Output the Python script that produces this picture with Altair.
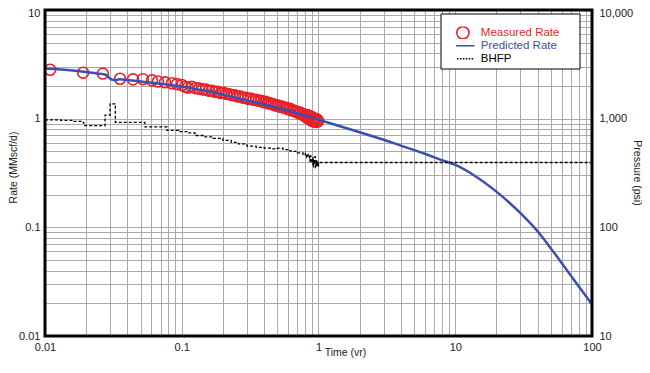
import altair as alt
import pandas as pd

# ---------------- data ----------------
series = ["Measured Rate", "Predicted Rate", "BHFP"]
colors = ["#ea1f27", "#3a50b0", "#000000"]

pred_t = [0.01, 0.013, 0.016, 0.02, 0.024, 0.0275, 0.029, 0.031, 0.033, 0.035, 0.04, 0.05,
          0.06, 0.08, 0.1, 0.13, 0.17, 0.22, 0.3, 0.4, 0.5, 0.7, 1.0, 1.4, 2.0, 3.0, 4.0,
          6.0, 8.0, 10, 13.5, 20, 30, 40, 52, 73, 100]
pred_rate = [2.90, 2.84, 2.77, 2.69, 2.61, 2.55, 2.42, 2.28, 2.27, 2.30, 2.27, 2.20,
             2.14, 2.05, 1.98, 1.86, 1.74, 1.62, 1.47, 1.35, 1.26, 1.12, 0.98, 0.86, 0.75,
             0.64, 0.565, 0.475, 0.415, 0.375, 0.305, 0.213, 0.135, 0.092, 0.060, 0.0335, 0.0195]

meas_t = [0.0109, 0.019, 0.0265, 0.0354, 0.044, 0.052, 0.0606, 0.067, 0.0754, 0.0849, 0.0923,
          0.1004, 0.1055, 0.1109, 0.118, 0.126, 0.134, 0.142, 0.15, 0.158, 0.166, 0.175, 0.184,
          0.193, 0.202, 0.212, 0.222, 0.233, 0.244, 0.256, 0.268, 0.28, 0.293, 0.306, 0.32,
          0.335, 0.35, 0.365, 0.38, 0.395, 0.41, 0.425, 0.44, 0.455, 0.47, 0.485, 0.5, 0.52,
          0.54, 0.56, 0.58, 0.6, 0.62, 0.64, 0.66, 0.68, 0.7, 0.72, 0.74, 0.76, 0.78, 0.8,
          0.815, 0.83, 0.845, 0.86, 0.875, 0.89, 0.905, 0.92, 0.935, 0.95, 0.965, 0.98, 0.995]
meas_rate = [2.82, 2.65, 2.60, 2.33, 2.30, 2.31, 2.25, 2.20, 2.16, 2.12, 2.08,
             2.04, 1.97, 1.93, 1.97, 1.91, 1.89, 1.86, 1.85, 1.81, 1.81, 1.77, 1.77,
             1.72, 1.73, 1.69, 1.68, 1.65, 1.64, 1.61, 1.60, 1.56, 1.56, 1.52, 1.53,
             1.49, 1.49, 1.46, 1.46, 1.42, 1.43, 1.39, 1.39, 1.36, 1.36, 1.32, 1.33, 1.29,
             1.29, 1.26, 1.26, 1.22, 1.23, 1.19, 1.19, 1.16, 1.16, 1.12, 1.13, 1.09, 1.10, 1.06,
             1.03, 1.08, 1.00, 1.05, 0.97, 1.04, 0.95, 1.01, 0.94, 1.00, 0.93, 0.98, 0.95]

bhfp_t = [0.01, 0.013, 0.016, 0.0185, 0.0192, 0.0275, 0.0299, 0.0327, 0.0538, 0.078, 0.095,
          0.109, 0.125, 0.145, 0.17, 0.2, 0.23, 0.26, 0.3, 0.35, 0.4, 0.45, 0.5, 0.55, 0.6,
          0.65, 0.7, 0.77, 0.8, 0.82, 0.84, 0.86, 0.87, 0.88, 0.9, 0.91, 0.92, 0.93, 0.94,
          0.95, 0.96, 0.97, 0.98, 0.99, 1.0, 100]
bhfp_psi = [975, 965, 945, 925, 862, 1080, 1370, 925, 840, 780, 760,
            740, 700, 680, 660, 630, 605, 585, 560, 545, 535, 528, 535, 520, 505,
            500, 485, 462, 480, 440, 470, 410, 455, 395, 440, 360, 420, 380, 445,
            355, 410, 370, 400, 365, 395, 395]

x_ticks = [0.01, 0.02, 0.03, 0.04, 0.05, 0.06, 0.07, 0.08, 0.09,
           0.1, 0.2, 0.3, 0.4, 0.5, 0.6, 0.7, 0.8, 0.9,
           1, 2, 3, 4, 5, 6, 7, 8, 9,
           10, 20, 30, 40, 50, 60, 70, 80, 90, 100]
rate_ticks = [0.01, 0.02, 0.03, 0.04, 0.05, 0.06, 0.07, 0.08, 0.09,
              0.1, 0.2, 0.3, 0.4, 0.5, 0.6, 0.7, 0.8, 0.9,
              1, 2, 3, 4, 5, 6, 7, 8, 9, 10]
psi_ticks = [10, 100, 1000, 10000]

# ---------------- chart ----------------
W, H = 547, 326
FONT = "Liberation Sans"
GRID = "#aaaaaa"
TXT = "#222222"
decade_label = ("abs(log(datum.value)/LN10 - round(log(datum.value)/LN10)) < 1e-6 "
                "? format(datum.value, ',') : ''")

meas_df = pd.DataFrame({"t": meas_t, "rate": meas_rate, "series": "Measured Rate"})
pred_df = pd.DataFrame({"t": pred_t, "rate": pred_rate, "series": "Predicted Rate"})
bhfp_df = pd.DataFrame({"t": bhfp_t, "psi": bhfp_psi, "series": "BHFP"})

x_scale = alt.Scale(type="log", domain=[0.01, 100], nice=False)
x_axis = alt.Axis(values=x_ticks, labelExpr=decade_label, grid=True, gridColor=GRID,
                  gridWidth=1, ticks=False, domain=False, labelPadding=5, labelFontSize=11,
                  labelFont=FONT, labelColor=TXT, labelFlush=False, labelOverlap=False,
                  title="Time (vr)", titleFont=FONT, titleFontSize=10.5,
                  titleFontWeight="normal", titleColor=TXT,
                  titleX=300, titleY=19.5, titleBaseline="alphabetic", titleAlign="center")

rate_scale = alt.Scale(type="log", domain=[0.01, 10], nice=False)
rate_axis = alt.Axis(values=rate_ticks, labelExpr=decade_label, grid=True, gridColor=GRID,
                     gridWidth=1, ticks=False, domain=False, labelPadding=5, labelFontSize=11,
                     labelFont=FONT, labelColor=TXT, labelFlush=False, labelOverlap=False,
                     labelOffset={"condition": {"test": "datum.value >= 9.99", "value": 3},
                                  "value": 0},
                     title="Rate (MMscf/d)", titleFont=FONT, titleFontSize=10.5,
                     titleFontWeight="normal", titleColor=TXT,
                     titleAngle=270, titleX=-28.5, titleY=157, titleBaseline="alphabetic",
                     titleAlign="center")

psi_scale = alt.Scale(type="log", domain=[10, 10000], nice=False)
psi_axis = alt.Axis(values=psi_ticks, labelExpr=decade_label, grid=False, ticks=False,
                    domain=False, orient="right", labelPadding=7, labelFontSize=11,
                    labelFont=FONT, labelColor=TXT, labelFlush=False, labelOverlap=False,
                    labelOffset={"condition": {"test": "datum.value >= 9999", "value": 3},
                                 "value": 0},
                    title="Pressure (psi)", titleFont=FONT, titleFontSize=10.5,
                    titleFontWeight="normal", titleColor=TXT,
                    titleAngle=90, titleX=41, titleY=162.5, titleBaseline="alphabetic",
                    titleAlign="center")

dots = "".join(f"M{-1.9 + 0.475 * i:.3f},0L{-1.65 + 0.475 * i:.3f},0" for i in range(8))
shapes = ["circle", "M-1.9,0L1.9,0", dots]

legend = alt.Legend(
    title=None, orient="none", legendX=410.9, legendY=16.5, padding=0,
    symbolSize=150, symbolStrokeWidth=1.6, symbolFillColor="transparent",
    labelFont=FONT, labelFontSize=11.5, labelOffset=10.9, rowPadding=0, clipHeight=12.5,
    labelColor=alt.ExprRef(expr="datum.label == 'Measured Rate' ? '#ea1f27' : "
                                "(datum.label == 'Predicted Rate' ? '#3a50b0' : '#000000')"),
)
color_enc = alt.Color("series:N", scale=alt.Scale(domain=series, range=colors), legend=legend)
shape_enc = alt.Shape("series:N", scale=alt.Scale(domain=series, range=shapes), legend=legend)

points = alt.Chart(meas_df).mark_point(filled=False, size=120, strokeWidth=1.6,
                                       opacity=1).encode(
    x=alt.X("t:Q", scale=x_scale, axis=x_axis),
    y=alt.Y("rate:Q", scale=rate_scale, axis=rate_axis),
    color=color_enc,
    shape=shape_enc,
)
pred = alt.Chart(pred_df).mark_line(strokeWidth=2.5, interpolate="monotone").encode(
    x=alt.X("t:Q", scale=x_scale, axis=x_axis),
    y=alt.Y("rate:Q", scale=rate_scale, axis=rate_axis),
    color=color_enc,
)
bhfp = alt.Chart(bhfp_df).mark_line(strokeWidth=1.3, strokeDash=[3, 2],
                                    interpolate="step-after").encode(
    x=alt.X("t:Q", scale=x_scale, axis=x_axis),
    y=alt.Y("psi:Q", scale=psi_scale, axis=psi_axis),
    color=color_enc,
)

one = pd.DataFrame({"k": [0]})
legend_box = alt.Chart(one).mark_rect(fill="white", stroke="black", strokeWidth=1).encode(
    x=alt.value(396), x2=alt.value(535), y=alt.value(4), y2=alt.value(59))
frame = alt.Chart(one).mark_rect(fillOpacity=0, stroke="black", strokeWidth=3).encode(
    x=alt.value(0), x2=alt.value(W), y=alt.value(0), y2=alt.value(H))

chart = alt.layer(
    alt.layer(points, pred), bhfp, legend_box, frame
).resolve_scale(y="independent").properties(
    width=W, height=H,
    autosize=alt.AutoSizeParams(type="none"),
    padding={"left": 37, "top": 2, "right": 50, "bottom": 22},
).configure_view(stroke=None).configure(font=FONT)

chart.save("out.html", embed_options={"renderer": "svg", "actions": False})
